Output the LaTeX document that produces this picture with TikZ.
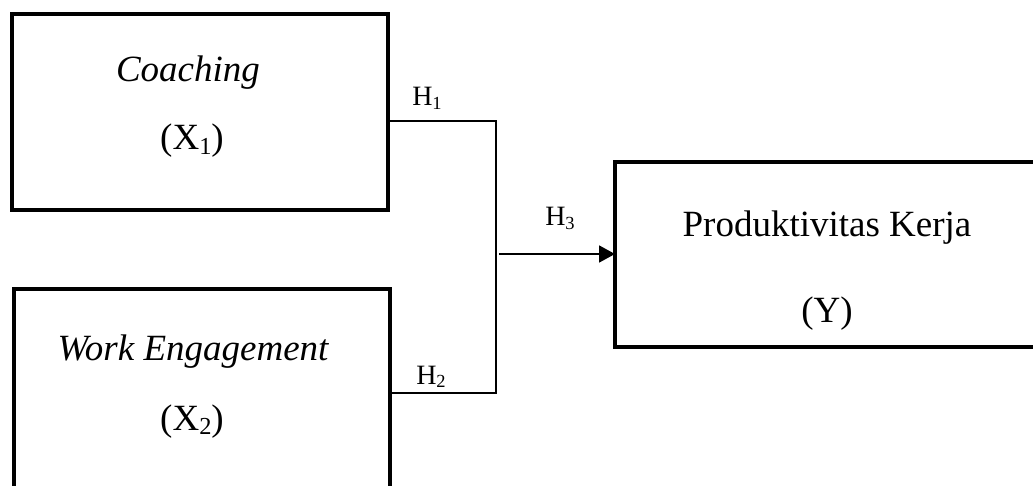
\documentclass[tikz,border=0pt]{standalone}
\usepackage{fontspec}
\usepackage{graphicx}
\setmainfont{Liberation Serif}
\usetikzlibrary{arrows.meta}
\newcommand\sbs[1]{\raisebox{-0.25ex}{\scalebox{0.66}{#1}}}
\tikzset{
  box/.style={draw, line width=4.5pt, inner sep=0pt, outer sep=0pt},
  txt/.style={inner sep=0pt, anchor=base, font=\fontsize{37}{44}\selectfont},
  hlab/.style={inner sep=0pt, anchor=base, font=\fontsize{28}{34}\selectfont},
  conn/.style={draw, line width=1.8pt},
  arr/.style={draw, line width=1.8pt, -{Triangle[length=16pt,width=17pt]}}
}
\begin{document}
\begin{tikzpicture}[x=1pt,y=-1pt]
\useasboundingbox (0,0) rectangle (1033,486);
\clip (0,0) rectangle (1033,486);
% boxes
\node[box, minimum width=376pt, minimum height=196pt] (b1) at (200,112) {};
\node[box, minimum width=376pt, minimum height=212pt] (b2) at (202,395) {};
\node[box, minimum width=440pt, minimum height=185pt] (b3) at (835,254.5) {};
% texts
\node[txt] (t1) at (188,82) {\itshape Coaching};
\node[txt] (t2) at (192,150) {(X\sbs{1})};
\node[txt] (t3) at (193,360) {\itshape Work Engagement};
\node[txt] (t4) at (192,430) {(X\sbs{2})};
\node[txt] (t5) at (827,237) {Produktivitas Kerja};
\node[txt] (t6) at (827,323) {(Y)};
% hypothesis labels
\node[hlab] (h1) at (427,106) {H\sbs{1}};
\node[hlab] (h2) at (431,384) {H\sbs{2}};
\node[hlab] (h3) at (560,226) {H\sbs{3}};
% connectors
\coordinate (j1) at (496,121);
\coordinate (j2) at (496,393);
\coordinate (a0) at (499,254);
\draw[conn] (j1 -| b1.east) -- (j1) -- (j2) -- (j2 -| b2.east);
\draw[arr] (a0) -- (a0 -| b3.west);
\end{tikzpicture}
\end{document}
